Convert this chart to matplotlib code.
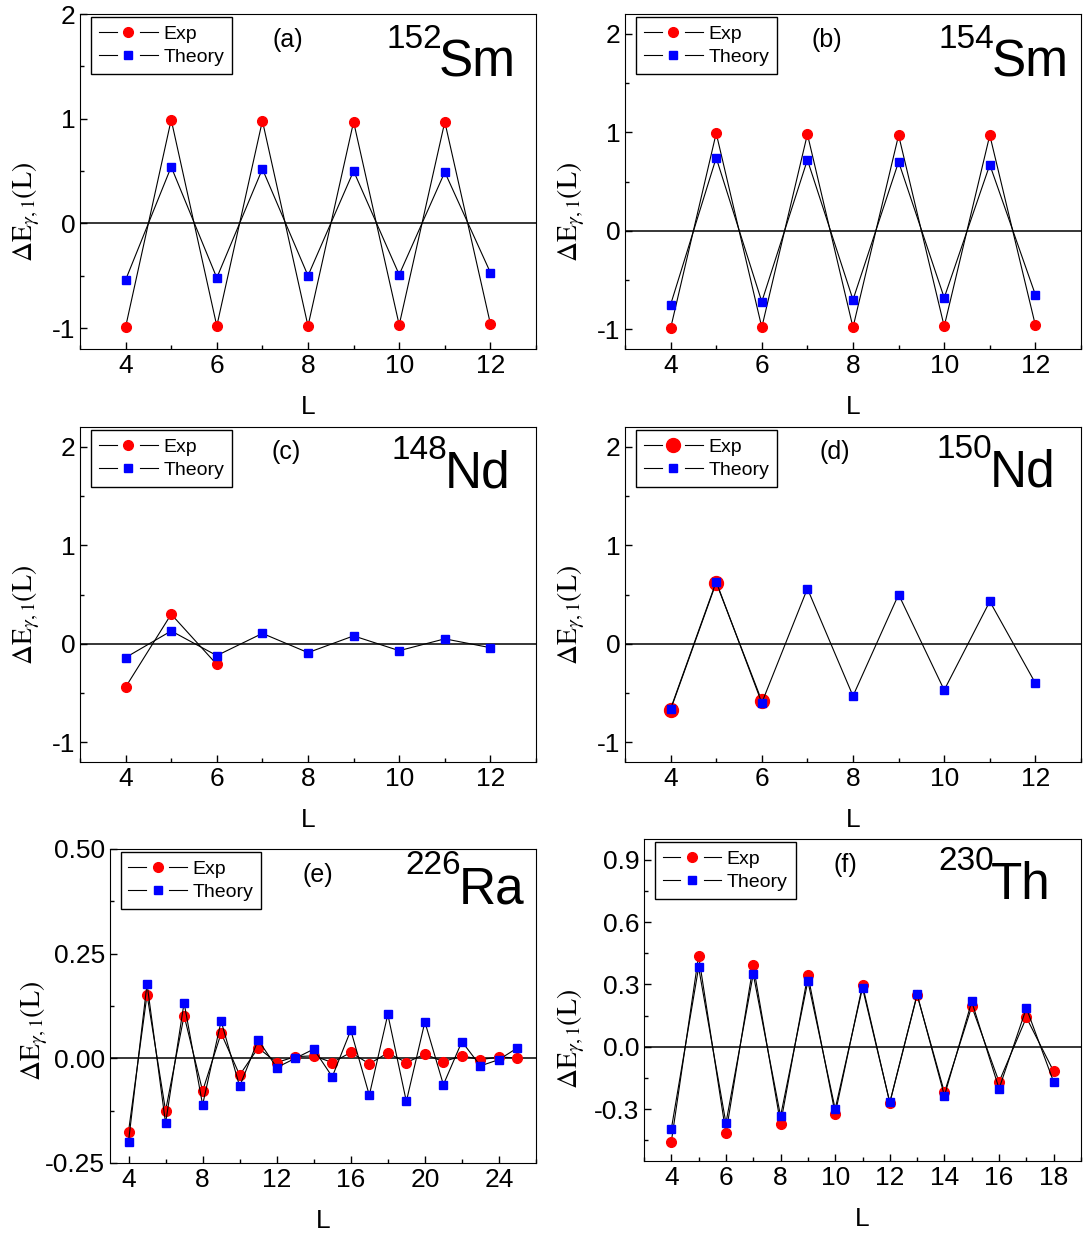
import numpy as np
import matplotlib
matplotlib.use('Agg')
import matplotlib.pyplot as plt
from matplotlib.ticker import MultipleLocator, FormatStrFormatter
from matplotlib.legend_handler import HandlerBase
from matplotlib.lines import Line2D

plt.rcParams.update({'font.family': 'Liberation Sans', 'font.size': 16,
                     'axes.unicode_minus': False})

# (a) 152Sm
L_a = np.arange(4, 13)
exp_a = [-0.99, 0.99, -0.98, 0.98, -0.98, 0.97, -0.97, 0.97, -0.96]
th_a = [-0.54, 0.54, -0.52, 0.52, -0.50, 0.50, -0.49, 0.49, -0.47]
# (b) 154Sm
L_b = np.arange(4, 13)
exp_b = [-0.99, 0.99, -0.98, 0.98, -0.98, 0.97, -0.97, 0.97, -0.96]
th_b = [-0.75, 0.74, -0.72, 0.72, -0.70, 0.70, -0.68, 0.67, -0.65]
# (c) 148Nd
L_c_exp = [4, 5, 6]
exp_c = [-0.44, 0.30, -0.21]
L_c = np.arange(4, 13)
th_c = [-0.14, 0.13, -0.12, 0.105, -0.09, 0.08, -0.07, 0.05, -0.04]
# (d) 150Nd
L_d_exp = [4, 5, 6]
exp_d = [-0.67, 0.62, -0.58]
L_d = np.arange(4, 13)
th_d = [-0.66, 0.63, -0.60, 0.56, -0.53, 0.50, -0.47, 0.43, -0.40]
# (e) 226Ra
L_e = np.arange(4, 26)
exp_e = [-0.175, 0.152, -0.125, 0.102, -0.078, 0.060, -0.040, 0.025, -0.010, 0.004, 0.006,
         -0.010, 0.014, -0.013, 0.013, -0.010, 0.010, -0.008, 0.006, -0.003, 0.003, 0.001]
th_e = [-0.199, 0.178, -0.155, 0.133, -0.111, 0.089, -0.067, 0.044, -0.022, 0.000, 0.022,
        -0.044, 0.067, -0.088, 0.105, -0.103, 0.087, -0.063, 0.040, -0.018, -0.003, 0.025]
# (f) 230Th
L_f = np.arange(4, 19)
exp_f = [-0.457, 0.438, -0.417, 0.393, -0.371, 0.347, -0.323, 0.297, -0.270, 0.249,
         -0.220, 0.194, -0.169, 0.141, -0.119]
th_f = [-0.396, 0.382, -0.368, 0.350, -0.334, 0.316, -0.300, 0.283, -0.268, 0.252,
        -0.236, 0.218, -0.202, 0.186, -0.170]


class GapHandler(HandlerBase):
    # line - marker - line, with small gaps around the marker (Origin style)
    def create_artists(self, legend, orig, xdescent, ydescent, width, height, fontsize, trans):
        y = height / 2 - ydescent
        x0 = -xdescent
        x1 = x0 + width
        xm = (x0 + x1) / 2
        gap = 0.2 * width
        l1 = Line2D([x0, xm - gap], [y, y], color='black', lw=0.8)
        l2 = Line2D([xm + gap, x1], [y, y], color='black', lw=0.8)
        m = Line2D([xm], [y], marker=orig.get_marker(), ms=orig.get_markersize(),
                   mfc=orig.get_markerfacecolor(), mec=orig.get_markeredgecolor(), ls='none')
        for a in (l1, l2, m):
            a.set_transform(trans)
        return [l1, l2, m]


W, H = 1083, 1237
fig = plt.figure(figsize=(W / 100, H / 100), dpi=100)

def make_ax(l, r, t, b):
    return fig.add_axes([l / W, 1 - b / H, (r - l) / W, (b - t) / H])

panels = [
    # box, Lexp, exp, Lth, th, ylim, xlim, xmaj, ymaj, fmt, label, mass, elem, posx, posy, lblx, lbly, msz, ylab_x, ylab_y
    ((80, 536, 14, 349), L_a, exp_a, L_a, th_a, (-1.2, 2.0), (3, 13), 2, 1, '%d', '(a)', '152', 'Sm', 0.956, 0.812, 0.456, 0.922, 7, -0.083, 0.41),
    ((625, 1081, 14, 349), L_b, exp_b, L_b, th_b, (-1.2, 2.2), (3, 13), 2, 1, '%d', '(b)', '154', 'Sm', 0.972, 0.812, 0.442, 0.922, 7, -0.083, 0.41),
    ((80, 536, 427, 762), L_c_exp, exp_c, L_c, th_c, (-1.2, 2.2), (3, 13), 2, 1, '%d', '(c)', '148', 'Nd', 0.943, 0.818, 0.452, 0.925, 7, -0.083, 0.44),
    ((625, 1081, 427, 762), L_d_exp, exp_d, L_d, th_d, (-1.2, 2.2), (3, 13), 2, 1, '%d', '(d)', '150', 'Nd', 0.943, 0.821, 0.459, 0.925, 10, -0.083, 0.44),
    ((110, 536, 849, 1163), L_e, exp_e, L_e, th_e, (-0.25, 0.5), (3, 26), 4, 0.25, '%.2f', '(e)', '226', 'Ra', 0.972, 0.828, 0.488, 0.917, 7, -0.141, 0.42),
    ((644, 1081, 839, 1161), L_f, exp_f, L_f, th_f, (-0.55, 1.0), (3, 19), 2, 0.3, '%.1f', '(f)', '230', 'Th', 0.931, 0.814, 0.461, 0.919, 7, -0.13, 0.38),
]

for (box, Lx, ex, Lt, th, ylim, xlim, xmaj, ymaj, fmt, lbl, mass, elem, px, py, lx, ly, msz, yx, yy) in panels:
    ax = make_ax(*box)
    ax.axhline(0, color='black', lw=1.1, zorder=1)
    h1, = ax.plot(Lx, ex, color='black', lw=0.8, marker='o', ms=msz, mfc='red', mec='red', label='Exp', zorder=3)
    h2, = ax.plot(Lt, th, color='black', lw=0.8, marker='s', ms=5.8, mfc='blue', mec='blue', label='Theory', zorder=4)
    ax.set_xlim(*xlim)
    ax.set_ylim(*ylim)
    ax.xaxis.set_major_locator(MultipleLocator(xmaj))
    ax.xaxis.set_minor_locator(MultipleLocator(xmaj / 2))
    ax.yaxis.set_major_locator(MultipleLocator(ymaj))
    ax.yaxis.set_minor_locator(MultipleLocator(ymaj / 2))
    ax.yaxis.set_major_formatter(FormatStrFormatter(fmt))
    ax.tick_params(which='both', direction='in', top=False, right=False, labelsize=19)
    ax.tick_params(which='major', length=5, width=1)
    ax.tick_params(which='minor', length=3, width=1)
    ax.set_xlabel('L', fontsize=19, labelpad=12)
    ax.set_ylabel(r'$\Delta\mathrm{E}_{\gamma,1}\mathrm{(L)}$', fontsize=20, math_fontfamily='stix')
    ax.yaxis.set_label_coords(yx, yy)
    ax.legend(handles=[h1, h2], loc='upper left', bbox_to_anchor=(0.025, 0.99), fontsize=14,
              frameon=True, fancybox=False, edgecolor='black', framealpha=1, borderaxespad=0,
              handlelength=3.0, handletextpad=0.3, borderpad=0.4, labelspacing=0.3,
              handler_map={Line2D: GapHandler()})
    ax.text(lx, ly, lbl, transform=ax.transAxes, ha='center', va='center', fontsize=18)
    t = ax.text(px, py, elem, transform=ax.transAxes, ha='right', va='baseline', fontsize=37)
    ax.annotate(mass, xy=(0, 0), xycoords=t, xytext=(2, 29), textcoords='offset points',
                ha='right', va='baseline', fontsize=24)

fig.savefig('out.png', dpi=100)
